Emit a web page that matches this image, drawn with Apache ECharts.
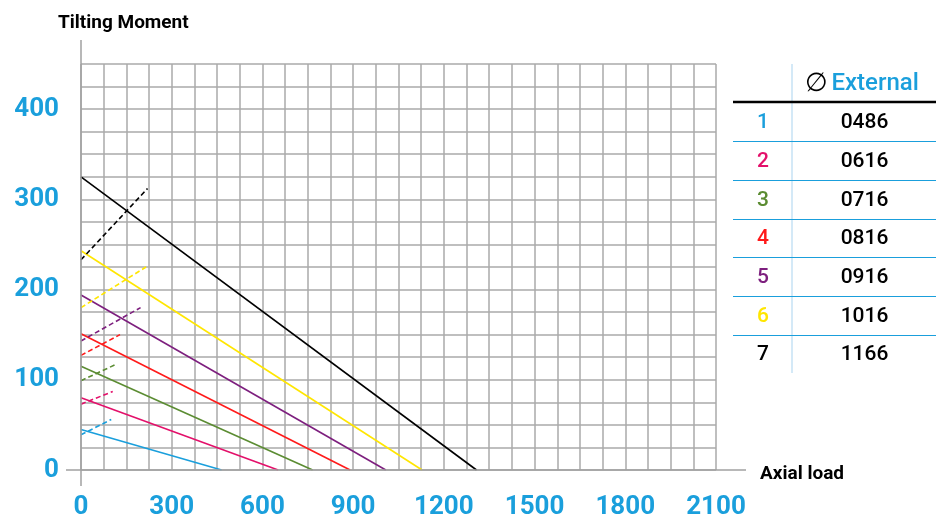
<!DOCTYPE html>
<html>
<head>
<meta charset="utf-8">
<script src="https://cdn.jsdelivr.net/npm/echarts@6/dist/echarts.min.js"></script>
<style>html,body{margin:0;padding:0;background:#fff}#c{width:936px;height:520px}</style>
</head>
<body>
<div id="c"></div>
<script>
// ---- data ----
var rowIds = ['1', '2', '3', '4', '5', '6', '7'];
var externals = ['0486', '0616', '0716', '0816', '0916', '1016', '1166'];
var lineColors = ['#1a9fdc', '#e3106a', '#5b8c32', '#ff1a1a', '#7d1f7e', '#ffe600', '#000000'];
// solid limit lines: moment at zero axial load, axial load at zero moment
var solidStartY = [45, 80, 115, 151, 194, 243, 325];
var solidEndX = [465, 652, 766, 890, 1008, 1128, 1308];
// dashed lines: start moment at x=0, end point
var dashStartY = [39, 73, 99, 127, 143, 180, 233];
var dashEndX = [100, 105, 115, 129, 197, 215, 220];
var dashEndY = [56, 87, 117, 150, 180, 225, 312];
var xTickLabels = [0, 300, 600, 900, 1200, 1500, 1800, 2100];
var yTickLabels = [0, 100, 200, 300, 400];

var BLUE = '#1a9fdc';
var FONT = 'Roboto';
var chart = echarts.init(document.getElementById('c'), null, {renderer: 'canvas'});

var series = [];
for (var i = 0; i < rowIds.length; i++) {
  series.push({
    type: 'line', name: 'solid' + rowIds[i], symbol: 'none', silent: true,
    data: [[0, solidStartY[i]], [solidEndX[i], 0]],
    lineStyle: {color: lineColors[i], width: 1.6}, z: 5
  });
  series.push({
    type: 'line', name: 'dash' + rowIds[i], symbol: 'none', silent: true,
    data: [[0, dashStartY[i]], [dashEndX[i], dashEndY[i]]],
    lineStyle: {color: lineColors[i], width: 1.6, type: [5, 3]}, z: 5
  });
}

var labelStyle = {color: BLUE, fontFamily: FONT, fontWeight: 'bold', fontSize: 26};

chart.setOption({
  animation: false,
  backgroundColor: '#fff',
  grid: {left: 81, right: 220, top: 64, bottom: 48, containLabel: false},
  xAxis: {
    type: 'value', min: 0, max: 2100, interval: 75,
    axisLine: {show: false}, axisTick: {show: false},
    splitLine: {show: true, lineStyle: {color: '#aaaaaa', width: 1.5}},
    axisLabel: Object.assign({
      margin: 24,
      formatter: function (v) { return xTickLabels.indexOf(v) >= 0 ? String(v) : ''; }
    }, labelStyle)
  },
  yAxis: {
    type: 'value', min: 0, max: 450, interval: 25,
    axisLine: {show: false}, axisTick: {show: false},
    splitLine: {show: true, lineStyle: {color: '#aaaaaa', width: 1.5}},
    axisLabel: Object.assign({
      margin: 22,
      formatter: function (v) { return yTickLabels.indexOf(v) >= 0 ? String(v) : ''; }
    }, labelStyle)
  },
  series: series
});

// axis lines, axis titles and the table
var o = chart.convertToPixel({gridIndex: 0}, [0, 0]);
var xr = chart.convertToPixel({gridIndex: 0}, [2100, 0]);
var yt = chart.convertToPixel({gridIndex: 0}, [0, 450]);
var g = [];
var axisColor = '#a0a0a0';
g.push({type: 'line', z: 10, shape: {x1: o[0], y1: yt[1] - 24, x2: o[0], y2: o[1] + 16}, style: {stroke: axisColor, lineWidth: 1.5}});
g.push({type: 'line', z: 10, shape: {x1: o[0] - 15, y1: o[1], x2: xr[0] + 30, y2: o[1]}, style: {stroke: axisColor, lineWidth: 1.5}});
g.push({type: 'text', z: 10, x: 58, y: 23, style: {text: 'Tilting Moment', fill: '#000', font: 'bold 19px ' + FONT, textVerticalAlign: 'middle'}});
g.push({type: 'text', z: 10, x: 760, y: 474, style: {text: 'Axial load', fill: '#000', font: 'bold 19px ' + FONT, textVerticalAlign: 'middle'}});

// table
var tLeft = 733, tRight = 936, colX = 792;
var rowTop = 102.5, rowH = 38.7;
g.push({type: 'line', shape: {x1: colX, y1: 64, x2: colX, y2: 373}, style: {stroke: '#a9d3ef', lineWidth: 1}});
g.push({type: 'line', shape: {x1: tLeft, y1: 102, x2: tRight, y2: 102}, style: {stroke: '#000', lineWidth: 2.6}});
g.push({type: 'text', x: 862, y: 84, style: {
  rich: {a: {fill: '#000', font: '300 26px ' + FONT}, b: {fill: BLUE, font: '500 24px ' + FONT}},
  text: '{a|∅} {b|External}', align: 'center', verticalAlign: 'middle'}});
for (var r = 0; r < rowIds.length; r++) {
  var cy = rowTop + rowH * r + rowH / 2 + 1;
  g.push({type: 'text', x: 763, y: cy, style: {text: rowIds[r], fill: r === 6 ? '#000' : lineColors[r],
    font: '500 21px ' + FONT, align: 'center', verticalAlign: 'middle'}});
  g.push({type: 'text', x: 864.5, y: cy, style: {text: externals[r], fill: '#000',
    font: '500 21px ' + FONT, align: 'center', verticalAlign: 'middle'}});
  if (r < rowIds.length - 1) {
    var ly = Math.round(rowTop + rowH * (r + 1)) + 0.5;
    g.push({type: 'line', shape: {x1: tLeft, y1: ly, x2: tRight, y2: ly}, style: {stroke: BLUE, lineWidth: 1}});
  }
}
chart.setOption({graphic: g});
</script>
</body>
</html>
